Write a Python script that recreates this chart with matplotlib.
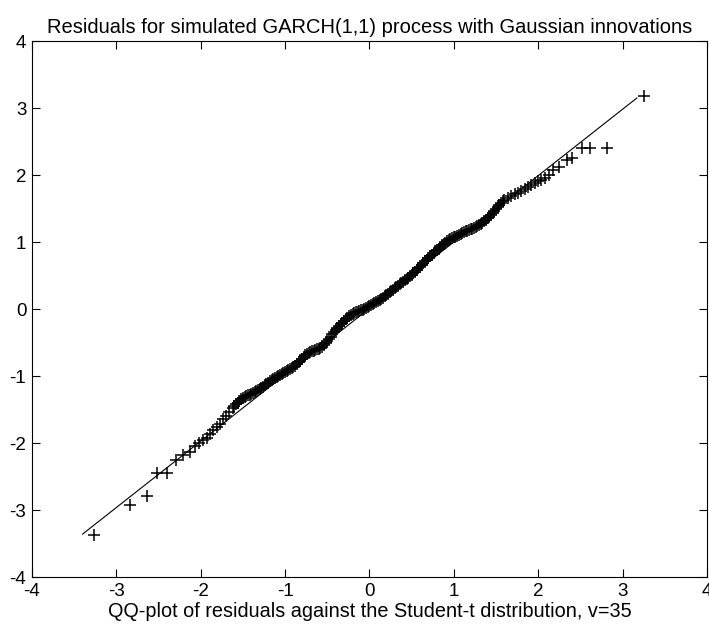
import numpy as np
import matplotlib
matplotlib.use('Agg')
import matplotlib.pyplot as plt

# sorted residual quantiles (y) vs Student-t quantiles (x)
# lower tail
low_x = [-3.26, -2.84, -2.64, -2.52, -2.40, -2.29, -2.21, -2.13, -2.07, -2.02,
         -1.97, -1.93, -1.89, -1.85, -1.81, -1.77, -1.73, -1.70, -1.66, -1.62]
low_y = [-3.37, -2.93, -2.79, -2.45, -2.45, -2.25, -2.18, -2.13, -2.05, -2.00,
         -1.96, -1.92, -1.86, -1.80, -1.76, -1.71, -1.64, -1.59, -1.53, -1.47]

# dense centre
mid_x = [-1.60, -1.58, -1.56, -1.54, -1.52, -1.50, -1.48, -1.46, -1.44, -1.42,
         -1.40, -1.38, -1.36, -1.34, -1.32, -1.30, -1.28, -1.26, -1.24, -1.22,
         -1.20, -1.18, -1.16, -1.14, -1.12, -1.10, -1.08, -1.06, -1.04, -1.02,
         -1.00, -0.98, -0.96, -0.94, -0.92, -0.90, -0.88, -0.86, -0.84, -0.82,
         -0.80, -0.78, -0.76, -0.74, -0.72, -0.70, -0.68, -0.66, -0.64, -0.62,
         -0.60, -0.58, -0.56, -0.54, -0.52, -0.50, -0.48, -0.46, -0.44, -0.42,
         -0.40, -0.38, -0.36, -0.34, -0.32, -0.30, -0.28, -0.26, -0.24, -0.22,
         -0.20, -0.18, -0.16, -0.14, -0.12, -0.10, -0.08, -0.06, -0.04, -0.02,
         0.00, 0.02, 0.04, 0.06, 0.08, 0.10, 0.12, 0.14, 0.16, 0.18,
         0.20, 0.22, 0.24, 0.26, 0.28, 0.30, 0.32, 0.34, 0.36, 0.38,
         0.40, 0.42, 0.44, 0.46, 0.48, 0.50, 0.52, 0.54, 0.56, 0.58,
         0.60, 0.62, 0.64, 0.66, 0.68, 0.70, 0.72, 0.74, 0.76, 0.78,
         0.80, 0.82, 0.84, 0.86, 0.88, 0.90, 0.92, 0.94, 0.96, 0.98,
         1.00, 1.02, 1.04, 1.06, 1.08, 1.10, 1.12, 1.14, 1.16, 1.18,
         1.20, 1.22, 1.24, 1.26, 1.28, 1.30, 1.32, 1.34, 1.36, 1.38,
         1.40, 1.42, 1.44, 1.46, 1.48, 1.50, 1.52, 1.54, 1.56, 1.58,
         1.60]
mid_y = [-1.445, -1.42, -1.395, -1.37, -1.35, -1.33, -1.315, -1.30, -1.29, -1.28,
         -1.265, -1.25, -1.235, -1.22, -1.205, -1.19, -1.175, -1.16, -1.14, -1.12,
         -1.10, -1.08, -1.065, -1.05, -1.035, -1.02, -1.005, -0.99, -0.975, -0.96,
         -0.945, -0.93, -0.915, -0.90, -0.885, -0.87, -0.845, -0.82, -0.795, -0.77,
         -0.74, -0.71, -0.69, -0.67, -0.655, -0.64, -0.63, -0.62, -0.61, -0.60,
         -0.59, -0.58, -0.56, -0.54, -0.51, -0.48, -0.445, -0.41, -0.375, -0.34,
         -0.31, -0.28, -0.255, -0.23, -0.205, -0.18, -0.155, -0.13, -0.11, -0.09,
         -0.075, -0.06, -0.05, -0.04, -0.03, -0.02, -0.01, 0.00, 0.015, 0.03,
         0.045, 0.06, 0.075, 0.09, 0.105, 0.12, 0.135, 0.15, 0.17, 0.19,
         0.21, 0.23, 0.25, 0.27, 0.29, 0.31, 0.33, 0.35, 0.37, 0.39,
         0.41, 0.43, 0.45, 0.47, 0.49, 0.51, 0.535, 0.56, 0.585, 0.61,
         0.635, 0.66, 0.685, 0.71, 0.735, 0.76, 0.785, 0.81, 0.835, 0.86,
         0.88, 0.90, 0.925, 0.95, 0.97, 0.99, 1.01, 1.03, 1.045, 1.06,
         1.07, 1.08, 1.09, 1.10, 1.115, 1.13, 1.145, 1.16, 1.17, 1.18,
         1.19, 1.20, 1.21, 1.22, 1.235, 1.25, 1.27, 1.29, 1.31, 1.33,
         1.355, 1.38, 1.405, 1.43, 1.46, 1.49, 1.525, 1.56, 1.585, 1.61,
         1.63]

# upper tail
up_x = [1.64, 1.68, 1.72, 1.76, 1.80, 1.84, 1.88, 1.92, 1.96, 2.00,
        2.03, 2.08, 2.13, 2.18, 2.25, 2.34, 2.40, 2.52, 2.62, 2.82, 3.26]
up_y = [1.665, 1.69, 1.71, 1.735, 1.765, 1.795, 1.825, 1.855, 1.885, 1.91,
        1.93, 1.96, 2.00, 2.07, 2.12, 2.22, 2.25, 2.41, 2.40, 2.41, 3.18]

# reference line end points
line_x = [-3.40, 3.17]
line_y = [-3.36, 3.15]

ticks = [-4, -3, -2, -1, 0, 1, 2, 3, 4]


def main():
    plt.rcParams['font.family'] = ['Liberation Sans', 'DejaVu Sans']
    plt.rcParams['axes.unicode_minus'] = False
    fig = plt.figure(figsize=(7.09, 6.32), dpi=100, facecolor='w')
    ax = fig.add_axes([0.045, 0.087, 0.952, 0.848])

    x = low_x + mid_x + up_x
    y = low_y + mid_y + up_y
    ax.plot(line_x, line_y, 'k-', lw=0.8)
    ax.plot(x, y, 'k+', markersize=9, mew=1.1)

    ax.set_xlim(-4, 4)
    ax.set_ylim(-4, 4)
    ax.set_xticks(ticks)
    ax.set_yticks(ticks)
    ax.tick_params(direction='in', length=6, width=0.8, top=True, right=True,
                   labelsize=13.5, pad=4)
    for s in ax.spines.values():
        s.set_linewidth(0.8)

    ax.set_title('Residuals for simulated GARCH(1,1) process with Gaussian innovations',
                 fontsize=14.5, pad=6)
    ax.set_xlabel('QQ-plot of residuals against the Student-t distribution, v=35',
                  fontsize=14.3, labelpad=2)

    fig.savefig('out.png', dpi=100)


if __name__ == '__main__':
    main()
